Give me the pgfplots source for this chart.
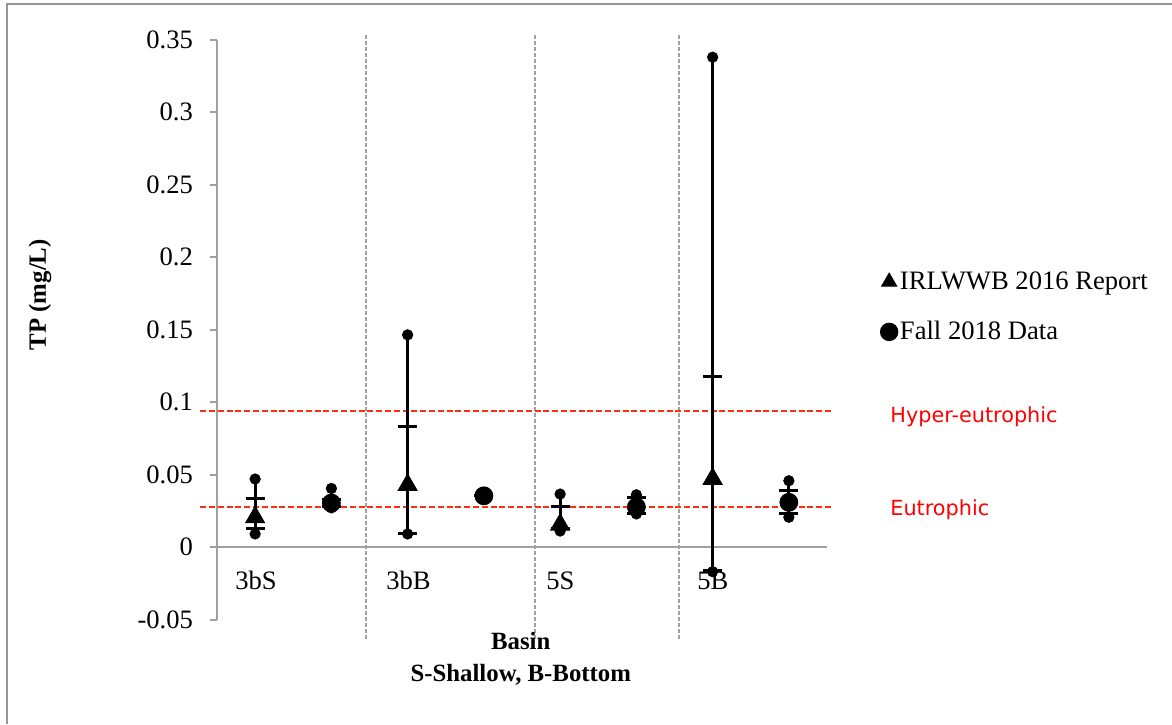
\documentclass[border=0pt]{standalone}
\usepackage{pgfplots}
\pgfplotsset{compat=1.18}
\usepackage{pgfplotstable}
\usepackage{fontspec}
\setmainfont{Liberation Serif}
\newfontfamily\labelsans{DejaVu Sans}

\definecolor{axisgray}{RGB}{160,160,160}
\definecolor{sepgray}{RGB}{160,160,160}
\definecolor{limitred}{RGB}{255,45,20}
\definecolor{framegray}{RGB}{150,150,150}

% TP summary per basin: max, mean+SD, mean, mean-SD, min
\pgfplotstableread{
x    max     hi      mean    lo      min
0.5  0.0469  0.0335  0.0205  0.0130  0.0090
2.5  0.1463  0.0831  0.0428  0.0090  0.0090
4.5  0.0365  0.0280  0.0154  0.0130  0.0110
6.5  0.3378  0.1176  0.0470  -0.0160 -0.0170
}\irltable

\pgfplotstableread{
x    max     hi      mean    lo      min
1.5  0.0404  0.0330  0.0303  0.0280  0.0270
3.5  0.0353  0.0353  0.0353  0.0353  0.0353
5.5  0.0360  0.0340  0.0276  0.0234  0.0228
7.5  0.0457  0.0388  0.0308  0.0228  0.0205
}\falltable

\newcommand{\tickfont}{\fontsize{13.3}{15}\selectfont}
\newcommand{\titlefont}{\fontsize{12.4}{16}\selectfont\bfseries}

\pgfplotsset{
  sddash/.style={only marks, mark=-, mark size=4.75pt, mark options={line width=1.5pt, black}, forget plot},
  enddot/.style={only marks, mark=*, mark size=2.6pt, black, forget plot},
  rangebar/.style={black, draw=none, forget plot,
    error bars/.cd, y dir=both, y explicit, error mark=none,
    error bar style={black, line width=1.4pt}},
}

\begin{document}
\begin{tikzpicture}[x=1pt,y=1pt]
\begin{axis}[
  at={(108.5pt,52.25pt)}, anchor=south west,
  scale only axis, width=305pt, height=290pt,
  xmin=0, xmax=8, ymin=-0.05, ymax=0.35,
  clip=false,
  axis x line=none,
  axis y line*=left,
  y axis line style={axisgray, line width=1pt, -},
  ytick={-0.05,0,0.05,0.1,0.15,0.2,0.25,0.3,0.35},
  tick align=outside,
  major tick length=3.5pt,
  every tick/.style={axisgray, line width=1pt},
  yticklabel style={font=\tickfont, xshift=-5pt, /pgf/number format/.cd, fixed, precision=2, assume math mode=true},
  legend style={draw=none, fill=none, inner sep=0pt, at={(axis cs:8.695,0.1903)}, anchor=north west,
    font=\tickfont, nodes={inner sep=0pt}, row sep=14.5pt, column sep=1pt},
  legend cell align=left,
  legend image code/.code={\draw[#1, mark size=4.4pt] plot coordinates {(0pt,0pt)};},
]

% category separators
\draw[sepgray, line width=1pt, dash pattern=on 2pt off 1pt] (axis cs:1.96,-0.0634) -- (axis cs:1.96,0.3531);
\draw[sepgray, line width=1pt, dash pattern=on 2pt off 1pt] (axis cs:4.17,-0.0634) -- (axis cs:4.17,0.3531);
\draw[sepgray, line width=1pt, dash pattern=on 2pt off 1pt] (axis cs:6.06,-0.0634) -- (axis cs:6.06,0.3531);

% zero line
\draw[axisgray, line width=1pt] (axis cs:0,0) -- (axis cs:8,0);

% trophic thresholds
\addplot[limitred, line width=1.1pt, dash pattern=on 3pt off 1.4pt, forget plot] coordinates {(-0.22,0.094) (8.08,0.094)};
\addplot[limitred, line width=1.1pt, dash pattern=on 3pt off 1.4pt, forget plot] coordinates {(-0.22,0.0278) (8.08,0.0278)};

% min-max ranges
\addplot[rangebar] table[x=x, y=mean, y error plus expr=\thisrow{max}-\thisrow{mean}, y error minus expr=\thisrow{mean}-\thisrow{min}] {\irltable};
\addplot[rangebar] table[x=x, y=mean, y error plus expr=\thisrow{max}-\thisrow{mean}, y error minus expr=\thisrow{mean}-\thisrow{min}] {\falltable};

% SD dashes and extremes
\addplot[sddash] table[x=x, y=hi] {\irltable};
\addplot[sddash] table[x=x, y=lo] {\irltable};
\addplot[sddash] table[x=x, y=hi] {\falltable};
\addplot[sddash] table[x=x, y=lo] {\falltable};
\addplot[enddot] table[x=x, y=max] {\irltable};
\addplot[enddot] table[x=x, y=min] {\irltable};
\addplot[enddot] table[x=x, y=max] {\falltable};
\addplot[enddot] table[x=x, y=min] {\falltable};

% means
\addplot[only marks, mark=triangle*, mark size=5.5pt, black] table[x=x, y=mean] {\irltable};
\addlegendentry{IRLWWB 2016 Report}
\addplot[only marks, mark=*, mark size=4.5pt, black] table[x=x, y=mean] {\falltable};
\addlegendentry{Fall 2018 Data}

% basin names
\node[anchor=base west, font=\tickfont, inner sep=0pt] at (axis cs:0.236,-0.029) {3bS};
\node[anchor=base west, font=\tickfont, inner sep=0pt] at (axis cs:2.216,-0.029) {3bB};
\node[anchor=base west, font=\tickfont, inner sep=0pt] at (axis cs:4.315,-0.029) {5S};
\node[anchor=base west, font=\tickfont, inner sep=0pt] at (axis cs:6.295,-0.029) {5B};

% threshold names
\node[anchor=base west, inner sep=0pt, text=red, font=\labelsans\fontsize{10.4}{12}\selectfont] at (axis cs:8.826,0.086) {Hyper-eutrophic};
\node[anchor=base west, inner sep=0pt, text=red, font=\labelsans\fontsize{10.4}{12}\selectfont] at (axis cs:8.826,0.0216) {Eutrophic};

% axis titles
\node[rotate=90, anchor=center, font=\titlefont] at (axis description cs:-0.29,0.56) {TP (mg/L)};
\node[anchor=center, align=center, font=\titlefont] at (axis description cs:0.498,-0.068) {Basin\\[0pt]S-Shallow, B-Bottom};
\end{axis}

% outer frame
\draw[framegray, line width=1pt] (3.5pt,0pt) -- (3.5pt,360pt) -- (586pt,360pt);
\pgfresetboundingbox
\path[use as bounding box] (0pt,0pt) rectangle (586pt,362pt);
\end{tikzpicture}
\end{document}
